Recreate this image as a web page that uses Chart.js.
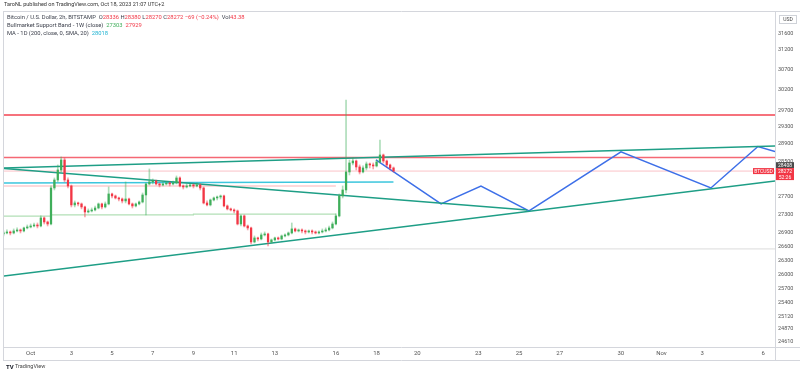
<!DOCTYPE html>
<html>
<head>
<meta charset="utf-8">
<script src="https://cdn.jsdelivr.net/npm/chart.js@4.4.0/dist/chart.umd.min.js"></script>
<style>
html, body { margin: 0; padding: 0; background: #fff; }
#wrap { width: 800px; height: 375px; position: relative; }
</style>
</head>
<body>
<div id="wrap"><canvas id="btcChart" width="800" height="375"></canvas></div>
<script>
// ---------------- Données (BTC/USD, bougies 4h, x = jours depuis le 1er oct.) ----------------
const firstCandleDay = -4 / 3;   // 29 sept 16:00
const candleStepDays = 1 / 6;    // 4 heures

const candleOpen = [26866,26887,26909,26887,26931,26953,26931,26997,27018,27040,
  27062,27040,27217,27128,27084,27887,28069,28298,28528,28069,
  27933,27506,27550,27528,27461,27349,27372,27394,27438,27528,
  27461,27528,27752,27707,27662,27639,27595,27639,27528,27483,
  27528,27572,27729,27978,28024,28046,27978,27955,27978,28001,
  27978,28001,28115,27933,27910,27933,27955,27933,27955,27887,
  27550,27506,27617,27662,27684,27707,27483,27417,27394,27372,
  27084,27261,27040,26997,26692,26779,26757,26844,26866,26692,
  26736,26779,26757,26822,26844,26887,26975,26931,26953,26931,
  26909,26931,26909,26887,26909,26931,26953,26997,27084,27261,
  27707,27842,28252,28459,28505,28367,28252,28344,28436,28413,
  28390,28482,28644,28505,28413,28344];

const candleHigh = [26931,26953,26931,26975,26997,26975,27018,27062,27084,27106,
  27106,27261,27239,27150,27933,28115,28413,28598,28575,28115,
  27955,27595,27572,27550,27483,27417,27438,27483,27550,27550,
  27572,27910,27774,27729,27684,27662,28024,27662,27550,27550,
  27595,27774,28001,28321,28092,28069,28001,28024,28024,28024,
  28046,28160,28138,27955,27978,27978,27978,28001,27978,27910,
  27595,27639,27684,27707,27729,27729,27506,27438,27417,27394,
  27283,27283,27062,27018,26822,26800,26887,26909,26887,26757,
  26800,26800,26844,26866,26909,27106,26997,26975,26975,26953,
  26953,26953,26931,26931,26975,26997,27040,27128,27306,27752,
  27933,29952,28528,28575,28528,28413,28390,28482,28459,28459,
  28528,28995,28667,28528,28436,28367];

const candleLow = [26822,26866,26844,26866,26909,26887,26909,26975,26997,27018,
  26997,27018,27084,27040,27062,27842,28024,28252,28024,27887,
  27461,27461,27483,27417,27239,27327,27349,27372,27417,27417,
  27438,27506,27662,27639,27595,27550,27550,27506,27438,27461,
  27506,27550,27283,27955,27978,27955,27910,27933,27955,27933,
  27955,27978,27910,27864,27887,27910,27887,27910,27842,27528,
  27483,27483,27595,27617,27639,27461,27394,27372,27327,27062,
  27040,27018,26953,26649,26671,26714,26736,26822,26606,26671,
  26714,26736,26736,26800,26822,26866,26909,26909,26887,26866,
  26887,26866,26866,26866,26887,26909,26931,26975,27062,27239,
  27662,27774,28183,28413,28298,28206,28229,28298,28344,28321,
  28367,28459,28459,28367,28298,28252];

const candleClose = [26887,26909,26887,26931,26953,26931,26997,27018,27040,27062,
  27040,27217,27128,27084,27887,28069,28298,28528,28069,27933,
  27506,27550,27528,27461,27349,27372,27394,27438,27528,27461,
  27528,27752,27707,27662,27639,27595,27639,27528,27483,27528,
  27572,27729,27978,28024,28046,27978,27955,27978,28001,27978,
  28001,28115,27933,27910,27933,27955,27933,27955,27887,27550,
  27506,27617,27662,27684,27707,27483,27417,27394,27372,27084,
  27261,27040,26997,26692,26779,26757,26844,26866,26692,26736,
  26779,26757,26822,26844,26887,26975,26931,26953,26931,26909,
  26931,26909,26887,26909,26931,26953,26997,27084,27261,27707,
  27842,28252,28459,28505,28367,28252,28344,28436,28413,28390,
  28482,28644,28505,28413,28344,28275];

// lignes de tendance (jour, prix)
const viewDays = [-1.31, 36.58];
const upperTrend = [28343, 28854];
const lowerTrend = [25966, 28045];
const fallDays = [-1.31, 24.4];
const fallTrend = [28331, 27394];

// niveaux horizontaux
const resistanceHigh = 29590;
const resistanceLow = 28586;
const supportGrey = 26541;
const lastPrice = 28272;
const markPrice = 28408;

// Bullmarket Support Band (1W) + MA 200 (1D)
const bandDays = [-1.31, 1, 8, 15];
const bandLow = [27255, 27285, 27303, 27303];
const bandHigh = [27929, 27929, 27929, 27929];
const maDays = [-1.31, 17.83];
const maValues = [28000, 28020];

// projection (zigzag bleu)
const projDays = [16.97, 20.17, 22.13, 24.49, 29.01, 33.43, 35.74, 36.58];
const projPrices = [28528, 27527, 27932, 27373, 28716, 27887, 28842, 28722];

// axes
const xTickDays = [0, 2, 4, 6, 8, 10, 12, 15, 17, 19, 22, 24, 26, 29, 31, 33, 36];
const xTickLabels = ['Oct', '3', '5', '7', '9', '11', '13', '16', '18', '20', '23', '25', '27', '30', 'Nov', '3', '6'];
const yTicks = [31600, 31200, 30700, 30200, 29700, 29300, 28900, 28500, 28100, 27700, 27300,
  26900, 26600, 26300, 26000, 25700, 25400, 25120, 24870, 24610];

// ---------------- Construction ----------------
const FONT = 'Roboto, "Liberation Sans", sans-serif';
const upColor = '#3fae5a';
const downColor = '#f23645';

const candleDays = candleClose.map((_, i) => firstCandleDay + i * candleStepDays);
const isUp = candleClose.map((c, i) => c >= candleOpen[i]);

function seg(days, values) {
    return days.map((d, i) => ({ x: d, y: values[i] }));
}
function lineDs(data, color, width, order, extra) {
    return Object.assign({
        type: 'line', data: data, borderColor: color, borderWidth: width,
        pointRadius: 0, tension: 0, fill: false, order: order
    }, extra || {});
}

const datasets = [
    {
        type: 'bar', label: 'wicks',
        data: candleDays.map((d, i) => ({ x: d, y: [candleLow[i], candleHigh[i]] })),
        backgroundColor: isUp.map(u => u ? 'rgba(63,174,90,0.42)' : 'rgba(242,54,69,0.45)'),
        barThickness: 1, grouped: false, order: 1
    },
    {
        type: 'bar', label: 'bodies',
        data: candleDays.map((d, i) => ({ x: d, y: [candleOpen[i], candleClose[i]] })),
        backgroundColor: isUp.map(u => u ? upColor : downColor),
        barThickness: 1.6, minBarLength: 1, grouped: false, order: 0
    },
    lineDs(seg(viewDays, [resistanceHigh, resistanceHigh]), 'rgba(242,54,69,0.7)', 2, 5),
    lineDs(seg(viewDays, [resistanceLow, resistanceLow]), 'rgba(242,54,69,0.75)', 1.5, 5),
    lineDs(seg(viewDays, [supportGrey, supportGrey]), '#dcdcdc', 1, 6),
    lineDs(seg(viewDays, [lastPrice, lastPrice]), 'rgba(242,54,69,0.3)', 1, 6),
    lineDs(seg(bandDays, bandLow), '#b2e0b6', 1.2, 4, { stepped: 'before' }),
    lineDs(seg(bandDays, bandHigh), 'rgba(242,54,69,0.25)', 1.5, 4, { stepped: 'before' }),
    lineDs(seg(maDays, maValues), '#3cc6dd', 1.5, 3),
    lineDs(seg(viewDays, upperTrend), '#1e9e86', 1.5, 2),
    lineDs(seg(viewDays, lowerTrend), '#1e9e86', 1.5, 2),
    lineDs(seg(fallDays, fallTrend), '#1e9e86', 1.5, 2),
    lineDs(seg(projDays, projPrices), '#3d6fe8', 1.5, 2)
];

// textes, cadres et étiquettes de prix façon TradingView
const tvDecor = {
    id: 'tvDecor',
    beforeDraw(chart) {
        const c = chart.ctx;
        c.save();
        c.fillStyle = '#fff';
        c.fillRect(0, 0, chart.width, chart.height);
        c.restore();
    },
    afterDraw(chart) {
        const c = chart.ctx;
        const y = chart.scales.y;
        const a = chart.chartArea;
        c.save();
        // cadres
        c.strokeStyle = '#d4d6dc';
        c.lineWidth = 1;
        c.beginPath();
        c.moveTo(3, 11.5); c.lineTo(800, 11.5);
        c.moveTo(3.5, 11.5); c.lineTo(3.5, 360.5);
        c.moveTo(3, 360.5); c.lineTo(800, 360.5);
        c.moveTo(3, a.bottom + 0.5); c.lineTo(800, a.bottom + 0.5);
        c.moveTo(a.right + 0.5, 11.5); c.lineTo(a.right + 0.5, 360.5);
        c.stroke();

        // entête
        c.textBaseline = 'middle';
        c.font = '5.5px ' + FONT;
        c.fillStyle = '#333';
        c.fillText('TaroNL published on TradingView.com, Oct 18, 2023 21:07 UTC+2', 4, 5);

        function row(parts, x0, yy) {
            let x = x0;
            parts.forEach(p => {
                c.fillStyle = p[1];
                c.fillText(p[0], x, yy);
                x += c.measureText(p[0]).width;
            });
        }
        c.font = '5.8px ' + FONT;
        const dark = '#3a3e4a', red = '#f23645';
        row([['Bitcoin / U.S. Dollar, 2h, BITSTAMP  ', dark], ['O', dark], ['28336', red], [' H', dark], ['28380', red],
            [' L', dark], ['28270', red], [' C', dark], ['28272', red], [' \u221269 (\u22120.24%)  ', red], ['Vol', dark], ['43.38', red]], 7, 18);
        row([['Bullmarket Support Band - 1W (close)  ', dark], ['27303', '#3fae5a'], ['  27929', red]], 7, 26);
        row([['MA - 1D (200, close, 0, SMA, 20)  ', dark], ['28018', '#22b4d2']], 7, 34);

        // boîte USD
        c.strokeStyle = '#cfd2d8';
        c.strokeRect(779.5, 15.5, 17, 8);
        c.fillStyle = '#444';
        c.font = '5px ' + FONT;
        c.textAlign = 'center';
        c.fillText('USD', 788, 19.5);

        // étiquettes de prix
        const yMark = y.getPixelForValue(markPrice);
        const yLast = y.getPixelForValue(lastPrice);
        c.fillStyle = '#4a4a4a';
        c.fillRect(a.right + 1, yMark - 3, 18, 6);
        c.fillStyle = downColor;
        c.fillRect(a.right + 1, yLast - 3, 18, 12);
        c.fillRect(a.right - 22, yLast - 3, 21, 6);
        c.fillStyle = '#fff';
        c.font = '5px ' + FONT;
        c.fillText(String(markPrice), a.right + 10, yMark + 0.3);
        c.fillText(String(lastPrice), a.right + 10, yLast + 0.3);
        c.fillText('52:26', a.right + 10, yLast + 6.3);
        c.fillText('BTCUSD', a.right - 11.5, yLast + 0.3);

        // pied
        c.textAlign = 'left';
        c.fillStyle = '#131722';
        c.font = 'bold 6px ' + FONT;
        c.fillText('TV', 6, 367);
        c.font = '5.5px ' + FONT;
        c.fillStyle = '#444';
        c.fillText('TradingView', 15, 367);
        c.restore();
    }
};

const ctx = document.getElementById('btcChart').getContext('2d');
const btcChart = new Chart(ctx, {
    type: 'bar',
    data: { datasets: datasets },
    options: {
        responsive: false,
        animation: false,
        devicePixelRatio: 1,
        layout: { padding: { left: 4, top: 12, right: 0, bottom: 14 } },
        plugins: {
            legend: { display: false },
            tooltip: { enabled: false }
        },
        scales: {
            x: {
                type: 'linear',
                min: viewDays[0],
                max: viewDays[1],
                offset: false,
                grid: { display: false, drawTicks: false },
                border: { display: false },
                afterBuildTicks: function (scale) {
                    scale.ticks = xTickDays.map(v => ({ value: v }));
                },
                afterFit: function (scale) { scale.height = 14; },
                ticks: {
                    autoSkip: false, maxRotation: 0, padding: 3,
                    color: '#555', font: { size: 6, family: FONT },
                    callback: function (value, index) { return xTickLabels[index]; }
                }
            },
            y: {
                type: 'logarithmic',
                position: 'right',
                min: 24510,
                max: 32169,
                grid: { display: false, drawTicks: false },
                border: { display: false },
                afterBuildTicks: function (scale) {
                    scale.ticks = yTicks.map(v => ({ value: v }));
                },
                afterFit: function (scale) { scale.width = 25; },
                ticks: {
                    autoSkip: false, padding: 3, crossAlign: 'near',
                    color: '#555', font: { size: 5.5, family: FONT },
                    callback: function (value) { return String(value); }
                }
            }
        }
    },
    plugins: [tvDecor]
});
</script>
</body>
</html>
